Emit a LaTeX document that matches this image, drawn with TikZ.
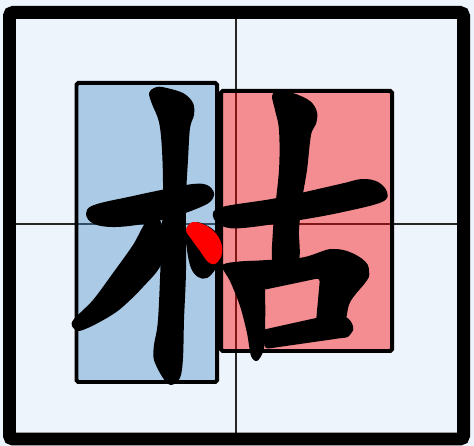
\documentclass[tikz,border=0pt]{standalone}
\usepackage{tikz}
\definecolor{paper}{HTML}{EDF4FB}
\definecolor{leftblue}{RGB}{70,140,200}
\tikzset{
  cellframe/.style={draw=black,line width=0.26cm,rounded corners=2pt},
  guideline/.style={draw=black!85,line width=0.025cm},
  leftpart/.style={draw=black,line width=0.08cm,fill=leftblue,fill opacity=0.4,
    rounded corners=1pt},
  rightpart/.style={draw=black,line width=0.08cm,fill=red,fill opacity=0.42,
    rounded corners=1pt},
  inkstroke/.style={fill=black},
  activestroke/.style={fill=red},
}

\begin{document}
\begin{tikzpicture}[x=0.02cm,y=-0.02cm]

  % paper and frame
  \fill[paper] (0,0) rectangle (474,446);
  \useasboundingbox (0,0) rectangle (474,446);
  \draw[guideline] (236,12) -- (236,439);
  \draw[guideline] (9,224) -- (464,224);
  \draw[cellframe] (9.5,12.5) rectangle (463.5,439);

  % component boxes
  \draw[leftpart] (76.5,83) rectangle (217,382);
  \draw[rightpart] (221,91) rectangle (392,351);

  % left part: horizontal
  \fill[inkstroke] plot[smooth cycle,tension=0.6] coordinates {
    (86,214) (94,205) (133,196) (166,189) (193,184) (207,185) (214,193)
    (210,202) (196,209) (176,216) (149,223) (116,227) (94,224)};

  % left part: falling stroke
  \fill[inkstroke] plot[smooth cycle,tension=0.5] coordinates {
    (147,221) (161,222) (162,262) (143,287) (119,310) (96,324) (79,331)
    (72,326) (74,319) (93,300) (113,273) (133,245)};

  % left part: vertical
  \fill[inkstroke] plot[smooth cycle,tension=0.55] coordinates {
    (149,93) (154,88) (162,87) (183,93) (193,103) (194,115) (190,128)
    (188,160) (186,200) (186,270) (184,320) (183,358) (180,378) (171,385)
    (163,378) (154,360) (154,345) (158,320) (161,253) (163,193) (162,150)
    (159,122) (152,104)};

  % left part: dot (base)
  \fill[inkstroke] plot[smooth cycle,tension=0.6] coordinates {
    (186,230) (194,222) (208,226) (219,236) (222,250) (216,268) (207,278)
    (198,277) (191,268) (187,250)};

  % right part: horizontal
  \fill[inkstroke] plot[smooth cycle,tension=0.6] coordinates {
    (213,216) (222,207) (277,198) (340,184) (362,179) (378,182) (387,192)
    (382,202) (343,212) (300,220) (243,228) (222,226)};

  % right part: vertical
  \fill[inkstroke] plot[smooth cycle,tension=0.55] coordinates {
    (272,96) (277,91) (293,93) (310,101) (317,112) (316,124) (311,135)
    (307,170) (302,200) (299,230) (298,262) (274,266) (273,230) (279,170)
    (279,130) (275,110)};

  % right part: box
  \fill[inkstroke] plot[smooth cycle,tension=0.5] coordinates {
    (222,266) (235,262) (262,263) (265,290) (265,335) (263,352) (257,361)
    (251,356) (247,333) (240,306) (230,281)};
  \fill[inkstroke,rounded corners=2pt] (235,262) -- (300,258)
    .. controls (315,255) and (325,249) .. (335,249)
    .. controls (350,250) and (368,260) .. (369,271)
    .. controls (370,281) and (352,295) .. (348,308)
    -- (346,320) -- (316,322) -- (320,278) -- (263,290) -- (240,290) -- cycle;
  \fill[inkstroke,rounded corners=2pt] (262,330) -- (316,318) -- (340,316)
    .. controls (350,317) and (355,327) .. (351,334)
    .. controls (347,338) and (341,338) .. (335,339)
    -- (265,349) -- cycle;

  % highlighted dot
  \fill[activestroke] plot[smooth cycle,tension=0.6] coordinates {
    (186,230) (193,222) (207,226) (217,235) (222,246) (221,257) (215,264)
    (208,262) (200,251) (192,240)};

\end{tikzpicture}
\end{document}
